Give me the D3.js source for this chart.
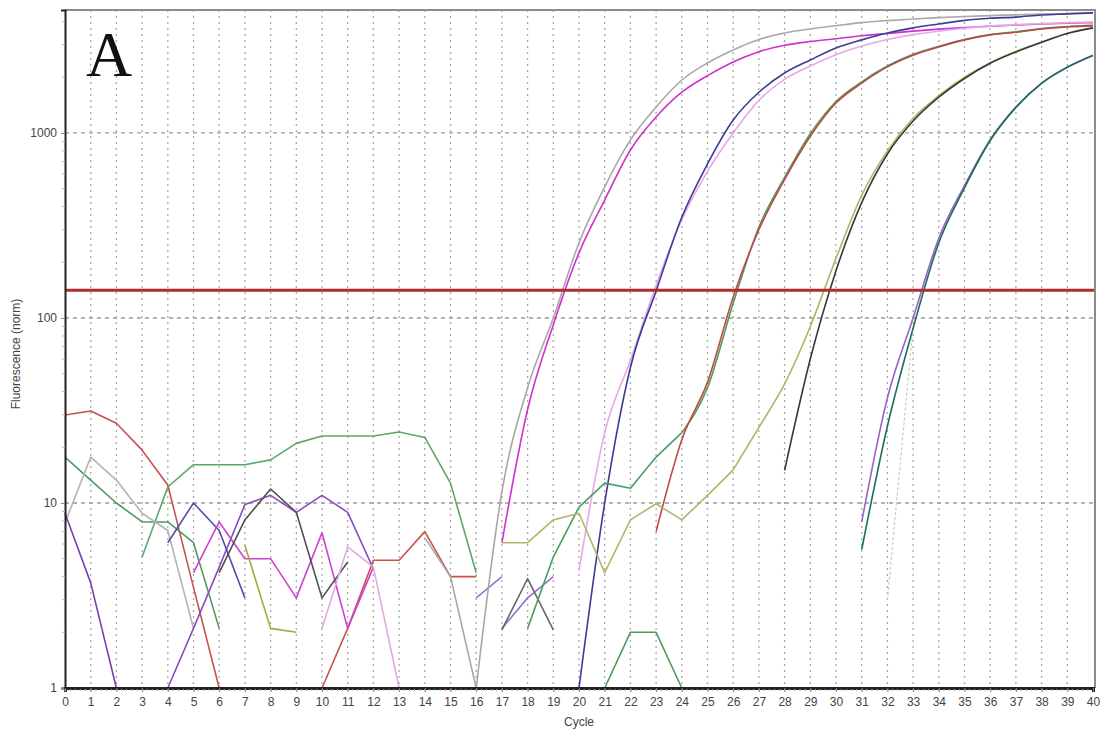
<!DOCTYPE html>
<html>
<head>
<meta charset="utf-8">
<script src="https://cdn.jsdelivr.net/npm/d3@7/dist/d3.min.js"></script>
<style>
  body { margin: 0; background: #fff; }
  text { font-family: Arial, "Liberation Sans", sans-serif; }
</style>
</head>
<body>
<script>
// axis ticks
var cycleTicks = d3.range(0, 41);
var fluorTicks = [1, 10, 100, 1000];
var threshold = 141;

// runs: [first cycle, readings per cycle]
// background wells (no amplification)
var redLow1 = [0, [29.9, 31.4, 27, 19.3, 12.5, 3.5, 1]];
var redLow2 = [10, [1, 2.1, 4.9, 4.9, 7, 4, 4]];
var greenHigh = [3, [5.1, 12.2, 16.1, 16.1, 16.1, 17.1, 21, 23, 23, 23, 24.2, 22.6, 12.8, 4.2]];
var greenLow = [0, [17.7, 13.3, 10, 7.9, 7.9, 6.1, 2.1]];
var greyLow = [0, [7.8, 17.7, 13.3, 8.8, 7.1, 2.1]];
var purpleLow1 = [0, [8.8, 3.7, 1]];
var purpleLow2 = [4, [1, 2.1, 4.5, 9.8, 11, 8.9, 11, 8.9, 4.4]];
var blueLow = [4, [6.1, 10, 7.1, 3.07]];
var magentaLow = [5, [4.2, 7.9, 5.0, 5.0, 3.07, 6.9, 2.1, 4.5]];
var darkLow1 = [6, [4.2, 8.1, 11.9, 8.9, 3.07, 4.8]];
var oliveLow = [7, [5.9, 2.1, 2.0]];
var pinkLow = [10, [2.1, 5.8, 4.5, 1]];
var lavLow1 = [16, [3.07, 4.0]];
var lavLow2 = [17, [2.1, 3.07, 4.0]];
var darkLow2 = [17, [2.06, 3.9, 2.06]];
var greenBump = [21, [1, 2.0, 2.0, 1]];
var paleGreen = [32, [3.0, 90]];

// amplified wells
var greyAmp = [14, [6.5, 4, 1, 11.5, 42, 100, 255, 511, 917, 1380, 1933, 2390, 2810, 3200, 3470, 3650, 3800, 3950, 4050, 4130, 4200, 4260, 4310, 4350, 4390, 4420, 4450]];
var magentaAmp = [17, [6.1, 32, 92, 225, 434, 809, 1220, 1660, 2040, 2420, 2750, 2980, 3120, 3230, 3350, 3450, 3550, 3640, 3710, 3780, 3830, 3880, 3920, 3950]];
var blueAmp = [20, [1, 10, 54, 140, 350, 680, 1175, 1660, 2110, 2480, 2880, 3185, 3470, 3700, 3880, 4060, 4170, 4230, 4340, 4400, 4460]];
var pinkAmp = [20, [4.3, 24, 59, 150, 340, 620, 1000, 1500, 1950, 2300, 2650, 2950, 3200, 3400, 3550, 3680, 3780, 3850, 3900, 3950, 3980]];
var greenAmp = [18, [2.1, 5.1, 9.5, 12.8, 12.0, 17.7, 24, 42, 120, 310, 575, 990, 1480, 1890, 2300, 2660, 2940, 3200, 3400, 3520, 3670, 3760, 3820]];
var redAmp = [23, [7, 22, 45, 130, 300, 560, 960, 1452, 1860, 2275, 2630, 2915, 3185, 3390, 3500, 3650, 3740, 3790]];
var oliveAmp = [17, [6.1, 6.1, 8.1, 8.8, 4.2, 8.1, 9.9, 8.1, 11, 15.1, 25.6, 44, 90, 210, 460, 800, 1200, 1590, 2000, 2400, 2760, 3100, 3460, 3690]];
var blackAmp = [28, [15, 60, 180, 420, 770, 1160, 1560, 1970, 2380, 2740, 3090, 3450, 3700]];
var purpleAmp = [31, [7.9, 37, 100, 270, 520, 920, 1380, 1860, 2270, 2630]];
var tealAmp = [31, [5.6, 26, 88, 255, 505, 910, 1375, 1855, 2265, 2625]];

var flatRuns = [
    {run: redLow1, color: "#c8524e"},
    {run: redLow2, color: "#c8524e"},
    {run: greenHigh, color: "#5aa86a"},
    {run: greenLow, color: "#4f9a5c"},
    {run: greyLow, color: "#b4b4b4"},
    {run: purpleLow1, color: "#7a3fb0"},
    {run: purpleLow2, color: "#8a4cc0"},
    {run: blueLow, color: "#5050a8"},
    {run: magentaLow, color: "#d040d0"},
    {run: darkLow1, color: "#505050"},
    {run: oliveLow, color: "#a8a838"},
    {run: pinkLow, color: "#e4a8e4"},
    {run: lavLow1, color: "#8080d0"},
    {run: lavLow2, color: "#9a70d0"},
    {run: darkLow2, color: "#686868"},
    {run: greenBump, color: "#4f9a5c"}
];

// bend: cycle where the smooth exponential part begins
var ampRuns = [
    {run: greyAmp, bend: 16, color: "#a8a8a8"},
    {run: magentaAmp, bend: 17, color: "#d030d0"},
    {run: pinkAmp, bend: 20, color: "#e8a8e8"},
    {run: blueAmp, bend: 20, color: "#3c3c98"},
    {run: greenAmp, bend: 24, color: "#4a9e60"},
    {run: redAmp, bend: 23, color: "#c04848"},
    {run: oliveAmp, bend: 26, color: "#b4b468"},
    {run: blackAmp, bend: 28, color: "#383838"},
    {run: purpleAmp, bend: 31, color: "#9a60c8"},
    {run: tealAmp, bend: 31, color: "#1f6e5c"}
];

var svgWidth = 1107;
var svgHeight = 732;
var plotLeft = 65, plotRight = 1093, plotTop = 10, plotBottom = 688;

var svg = d3.select("body")
    .append("svg")
    .attr("width", svgWidth)
    .attr("height", svgHeight)
    .style("background", "#fff");

var x = d3.scaleLinear().domain([0, 40]).range([plotLeft, plotRight]);
var y = d3.scaleLog().domain([1, 4620]).range([plotBottom, plotTop]);

// vertical dotted grid, one per cycle
svg.append("g")
    .selectAll("line")
    .data(cycleTicks.slice(1, 40))
    .enter()
    .append("line")
    .attr("x1", d => x(d)).attr("x2", d => x(d))
    .attr("y1", plotTop).attr("y2", plotBottom)
    .attr("stroke", "#a8a8a8")
    .attr("stroke-width", 1.3)
    .attr("stroke-dasharray", "2,4");

// horizontal dashed grid at decades
svg.append("g")
    .selectAll("line")
    .data(fluorTicks.slice(1))
    .enter()
    .append("line")
    .attr("x1", plotLeft).attr("x2", plotRight + 2)
    .attr("y1", d => y(d)).attr("y2", d => y(d))
    .attr("stroke", "#999")
    .attr("stroke-width", 1.3)
    .attr("stroke-dasharray", "4,4");

// panel letter
svg.append("text")
    .attr("x", 86)
    .attr("y", 76)
    .style("font-family", "'Liberation Serif', 'DejaVu Serif', serif")
    .style("font-size", "64px")
    .attr("fill", "#111")
    .text("A");

// curves
var toPoints = run => run[1].map((v, i) => [run[0] + i, v]);

var line = d3.line()
    .x(d => x(d[0]))
    .y(d => y(d[1]));

var smoothLine = d3.line()
    .x(d => x(d[0]))
    .y(d => y(d[1]))
    .curve(d3.curveMonotoneX);

// faint well that only shows a couple of readings
svg.append("path")
    .attr("d", line(toPoints(paleGreen)))
    .attr("fill", "none")
    .attr("stroke", "#b8dca8")
    .attr("stroke-width", 1.2)
    .attr("stroke-dasharray", "3,2");

svg.append("g")
    .selectAll("path")
    .data(flatRuns)
    .enter()
    .append("path")
    .attr("d", d => line(toPoints(d.run)))
    .attr("fill", "none")
    .attr("stroke", d => d.color)
    .attr("stroke-width", 1.6)
    .attr("stroke-linejoin", "round");

// amplified wells: straight noisy start, smooth rise after the bend
var ampGroups = svg.append("g")
    .selectAll("g")
    .data(ampRuns)
    .enter()
    .append("g")
    .attr("fill", "none")
    .attr("stroke", d => d.color)
    .attr("stroke-width", 1.6)
    .attr("stroke-linejoin", "round");

ampGroups.append("path")
    .attr("d", d => line(toPoints(d.run).filter(p => p[0] <= d.bend)));

ampGroups.append("path")
    .attr("d", d => smoothLine(toPoints(d.run).filter(p => p[0] >= d.bend)));

// threshold
svg.append("line")
    .attr("x1", plotLeft).attr("x2", plotRight + 2)
    .attr("y1", y(threshold)).attr("y2", y(threshold))
    .attr("stroke", "#b02c2c")
    .attr("stroke-width", 3);

// frame top and right
svg.append("path")
    .attr("d", `M${plotLeft},${plotTop}H${plotRight + 2}V${plotBottom}`)
    .attr("fill", "none")
    .attr("stroke", "#8c8c8c")
    .attr("stroke-width", 2);

// y axis
var leftAxis = d3.axisLeft(y)
    .tickValues(fluorTicks)
    .tickFormat(d3.format("d"))
    .tickSize(4);
var yAxis = svg.append("g")
    .attr("transform", `translate(${plotLeft}, 0)`)
    .call(leftAxis);
yAxis.select(".domain").attr("stroke", "#222").attr("stroke-width", 2);
yAxis.selectAll(".tick line").attr("stroke", "#888");
yAxis.selectAll("text").attr("fill", "#444").style("font-size", "12px").attr("x", -8);

// minor log ticks
var minor = [];
fluorTicks.forEach(function(dec) {
    d3.range(2, 10).forEach(function(m) {
        if (dec * m < 4620) minor.push(dec * m);
    });
});
svg.append("g")
    .selectAll("line")
    .data(minor)
    .enter()
    .append("line")
    .attr("x1", plotLeft - 3).attr("x2", plotLeft)
    .attr("y1", d => y(d)).attr("y2", d => y(d))
    .attr("stroke", "#bbb");

// x axis
var bottomAxis = d3.axisBottom(x)
    .tickValues(cycleTicks)
    .tickFormat(d3.format("d"))
    .tickSize(4);
var xAxis = svg.append("g")
    .attr("transform", `translate(0, ${plotBottom})`)
    .call(bottomAxis);
xAxis.select(".domain").attr("stroke", "#222").attr("stroke-width", 3);
xAxis.selectAll(".tick line").attr("stroke", "#777");
xAxis.selectAll("text").attr("fill", "#444").style("font-size", "12px").attr("y", 9);

// fine cycle ticks under the axis
svg.append("g")
    .selectAll("line")
    .data(d3.range(0, 200))
    .enter()
    .append("line")
    .attr("x1", d => x(d / 5)).attr("x2", d => x(d / 5))
    .attr("y1", plotBottom + 1).attr("y2", plotBottom + 3)
    .attr("stroke", "#aaa");

// axis labels
svg.append("text")
    .attr("x", (plotLeft + plotRight) / 2)
    .attr("y", 726)
    .attr("text-anchor", "middle")
    .attr("fill", "#444")
    .style("font-size", "12px")
    .text("Cycle");

svg.append("text")
    .attr("transform", "rotate(-90)")
    .attr("x", -354)
    .attr("y", 20)
    .attr("text-anchor", "middle")
    .attr("fill", "#444")
    .style("font-size", "12px")
    .text("Fluorescence (norm)");
</script>
</body>
</html>
